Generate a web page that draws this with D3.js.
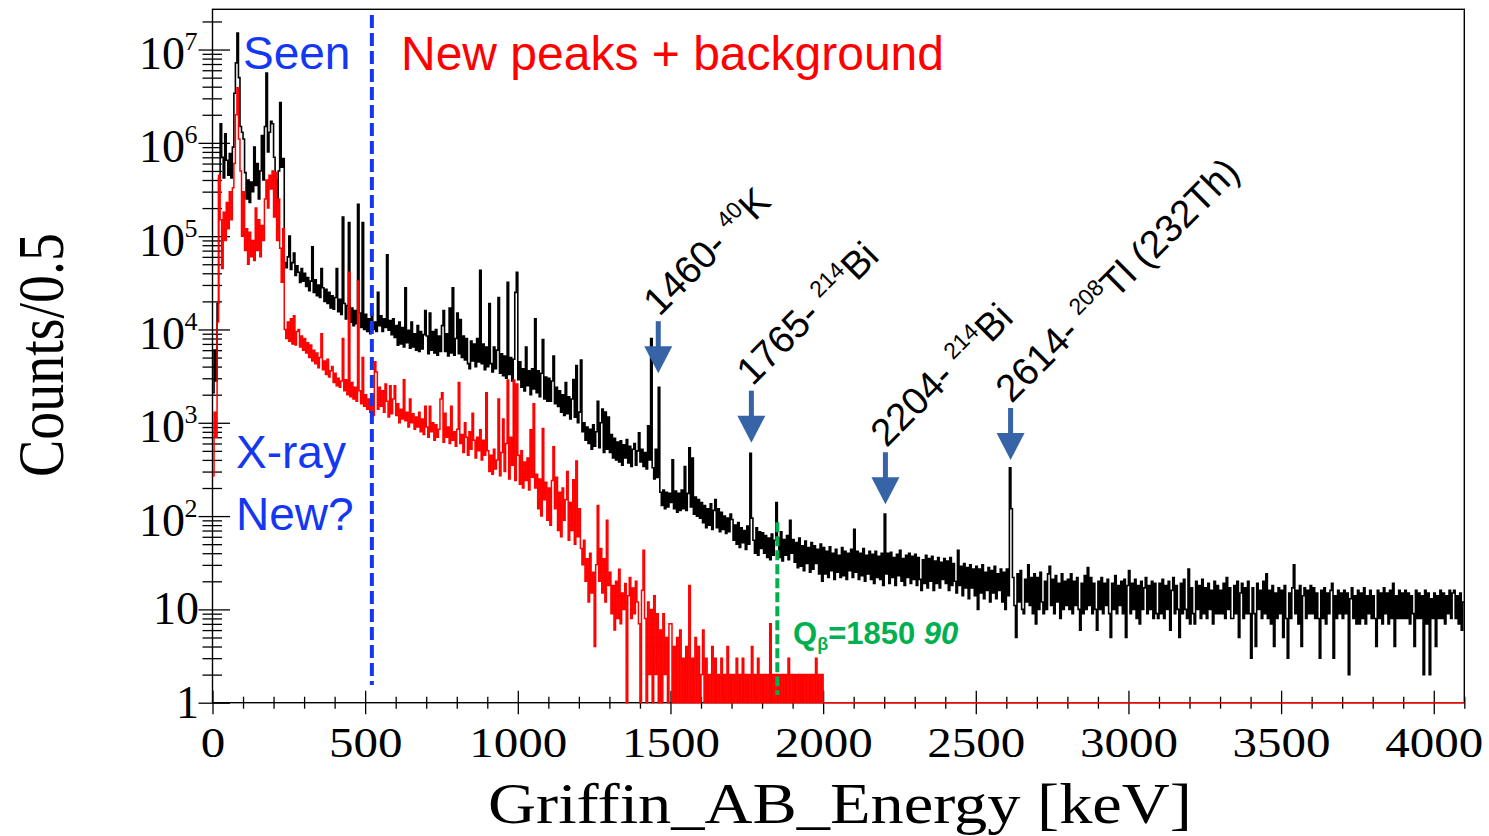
<!DOCTYPE html>
<html>
<head>
<meta charset="utf-8">
<script src="https://cdn.jsdelivr.net/npm/d3@7"></script>
<style>
  html, body { margin: 0; padding: 0; background: #fff; }
  svg { display: block; }
</style>
</head>
<body>
<svg id="chart" width="1489" height="836"></svg>
<script>
// ---------------- data ----------------
// Stored spectra: counts per 0.5 keV bin, sampled in 5 keV steps (value of each step = bin content shown there)
const binStep = 5;          // keV between stored values
const energyMax = 4100;     // keV, right edge of the frame
const countMin = 1;
const countMax = 2.7e7;

// Total Griffin addback spectrum (black)
const totalCounts = [
  2100,6000,2800,19000,420000,1600000,700000,420000,1250000,650000,450000,770000,420000,900000,3400000,7200000,15000000,5000000,1500000,1300000,
  1100000,480000,250000,400000,230000,380000,300000,900000,350000,600000,250000,500000,1200000,400000,1500000,5600000,800000,1300000,1700000,1600000,
  700000,400000,230000,500000,2700000,550000,680000,52000,46000,60000,100000,44000,52000,66000,38000,48000,41000,32000,45000,33000,
  40000,29000,36000,26000,33000,77000,25000,34000,23000,30000,22000,45000,28000,20000,27000,19000,25000,17000,23000,16500,
  22000,45000,15500,21000,14500,160000,19000,13000,18000,140000,12000,17000,11000,16000,11500,220000,15000,10500,140000,10000,
  14500,9500,13000,9000,15000,10000,12000,9500,25000,11000,14000,9500,13000,10500,63000,9800,12500,8800,13000,8200,
  11000,6800,12000,7000,10500,6500,28000,7200,9800,6300,12000,6500,9000,6000,11000,5800,9500,6200,8800,16000,
  8500,5500,15000,6000,9500,5600,10000,5300,8500,5800,11000,16000,5800,9000,5200,17000,5600,28000,5300,8000,
  15000,5500,12800,5000,8500,4700,8000,4300,3800,7500,4600,7000,4000,8000,4500,43000,4300,7000,3700,6500,
  4000,19000,4300,3500,6500,3800,6000,22000,3400,5500,3200,5200,3000,32000,3300,5000,2800,4800,25000,41000,
  2900,4500,2400,3800,2200,6500,2500,3600,2000,3800,2300,13000,2100,3600,1900,3400,7800,1800,3100,1700,
  3000,1700,2800,5200,1600,2400,1500,2200,1300,2000,1200,2700,1250,1900,1100,1800,2900,1150,4100,1000,
  1300,4700,800,1000,650,900,600,850,520,950,560,800,1700,540,1000,1400,480,1300,520,1150,
  480,750,420,680,400,620,380,640,350,580,420,660,370,560,340,520,600,350,500,780,
  380,520,340,480,320,930,400,8000,330,250,520,260,2400,180,130,190,120,180,125,175,
  140,400,120,185,110,175,115,190,120,340,115,175,540,125,420,105,160,100,150,95,
  140,85,130,75,120,80,135,72,115,150,75,120,68,110,72,100,65,95,68,105,
  92,55,80,50,85,46,75,52,70,44,78,50,470,95,55,40,75,38,68,45,
  66,40,62,36,58,34,64,38,55,140,58,36,68,33,56,38,62,34,90,40,
  56,32,52,28,58,29,48,26,54,31,46,25,52,27,48,31,44,24,50,20,
  46,24,42,22,47,26,40,21,44,25,38,22,46,23,42,21,40,26,44,22,
  72,25,42,21,40,23,45,20,38,24,42,21,39,19,42,22,37,21,40,18,
  105,24,40,19,41,22,36,18,39,23,43,20,35,18,38,22,40,19,37,21,
  39,18,36,21,16,34,19,38,17,35,20,37,16,33,19,36,17,32,21,35,
  19,33,16,36,18,31,20,15,43,18,29,14,31,17,28,13,30,17,27,14,
  29,10,27,15,30,13,25,16,28,12,26,15,29,13,24,16,27,12,25,10,
  27,14,330,120,22,11,5,24,12,26,10,9,21,12,30,11,22,9,24,7,
  22,10,25,12,9,20,10,24,29,11,21,9,23,12,19,8,24,10,20,11,
  21,10,24,9,20,11,22,10,6,19,9,23,10,28,11,22,9,19,10,6,
  20,10,22,9,19,11,21,9,5,19,10,23,9,18,11,20,9,21,5,18,
  26,9,19,10,21,8,18,7,20,10,17,22,9,18,10,20,8,19,9,8,
  19,9,21,8,18,10,20,6,16,22,9,18,10,5,19,9,21,10,8,27,
  7,17,9,7,20,10,18,8,21,9,17,8,19,10,16,7,20,9,18,9,
  16,9,19,8,22,10,17,8,8,18,9,20,5,15,19,8,17,9,20,9,
  3,17,9,4,19,10,16,8,20,9,24,8,16,7,18,4,15,8,17,9,
  16,5,18,8,3,15,8,17,30,9,16,7,18,4,14,17,8,16,9,18,
  9,17,8,15,8,3,16,8,17,7,15,9,16,19,3,14,8,16,9,15,
  8,16,9,15,2,13,17,8,14,7,16,7,15,8,17,7,14,9,16,8,
  14,8,4,16,8,15,7,17,9,15,7,16,8,19,4,14,8,16,8,15,
  8,16,8,15,7,14,9,4,16,8,15,8,14,2,16,7,15,2,13,8,
  15,4,14,8,16,8,15,7,14,9,16,8,15,16,8,14,7,15,6,12
];

// Gated spectrum (red), empty above 2000 keV
const gatedCounts = [
  270,1300,700,12000,450000,150000,45000,180000,90000,230000,120000,300000,150000,330000,600000,2000000,3900000,1100000,500000,100000,
  300000,70000,120000,50000,110000,60000,90000,55000,200000,70000,150000,60000,130000,90000,250000,400000,200000,450000,320000,500000,
  160000,480000,90000,250000,74000,32000,120000,10000,8000,12000,7500,13000,7000,14000,6800,9500,10000,6500,8500,6000,
  8000,5600,7200,5000,6800,4600,6000,4300,5600,3900,5000,9000,3700,4600,3300,4800,3100,3600,4000,2700,
  3400,2500,3000,2400,2800,8000,2200,2900,2000,41000,1900,2700,1800,2400,1700,33000,2200,1600,5000,1500,
  2000,1400,1800,1300,1900,1200,4500,3500,1400,2400,1500,2200,1300,2600,1700,1150,2500,1250,1800,2500,
  1200,1600,1000,1400,1100,2900,1050,1300,900,1800,1000,1250,850,1150,900,1300,800,1100,750,1500,
  900,700,1500,800,1000,650,950,700,850,1800,2100,620,1265,700,900,600,1500,650,800,560,
  850,2700,600,750,480,1000,700,450,800,520,1265,650,420,700,500,840,400,650,450,2100,
  500,300,450,280,520,320,400,1800,270,480,1100,300,600,2880,250,700,350,2880,240,2600,
  450,220,500,200,380,240,420,190,840,260,1600,200,280,120,250,100,870,150,230,90,
  200,80,240,555,120,260,70,180,60,200,90,150,300,55,140,70,245,50,390,60,
  120,45,30,55,20,35,12,40,15,25,4,30,130,20,45,15,35,12,90,18,
  25,9,18,6,20,8,27,7,15,10,19,1,14,22,8,17,9,20,12,7,
  1,16,43,8,1,12,2,10,1,14,2,9,1,6,1,9,2,5,1,7,
  7,1,4,1,5,1,6,1,3,1,4,1,18,1,3,1,5,1,4,1,
  2,6,1,3,1,2,1,4,1,3,1,2,1,3,1,2,1,4,1,2,
  1,2,1,3,1,2,1,3,1,2,1,2,1,4,1,2,1,3,1,2,
  1,2,1,2,1,7,1,2,1,2,1,2,1,2,1,2,1,3,1,2,
  1,2,1,2,1,2,1,2,1,2,1,2,1,2,1,3,1,2,1,2
];

// Axis ticks
const xMajorTicks = [0, 500, 1000, 1500, 2000, 2500, 3000, 3500, 4000];
const xMinorTicks = d3.range(100, energyMax + 1, 100).filter(e => e % 500 !== 0);
const yDecades = [0, 1, 2, 3, 4, 5, 6, 7];

// Labelled background lines
const peakEnergies   = [1460, 1765, 2204, 2614];
const peakArrowTips  = [3400, 612, 134, 399];   // counts at the arrow tips
const peakNumbers    = ["1460- ", "1765- ", "2204- ", "2614- "];
const peakMasses     = ["40", "214", "214", "208"];
const peakElements   = ["K", "Bi", "Bi", "Tl (232Th)"];

// Region markers
const splitEnergy = 522;            // end of the previously seen region
const splitRange = [1.55, 2.35e7];
const qValue = 1850, qError = 90;
const qRange = [1.21, 86];

// ---------------- drawing ----------------
const plotLeft = 212.5, plotRight = 1464.3, plotTop = 9.3, plotBottom = 702.7;
const serif = "'Liberation Serif', 'Times New Roman', serif";
const sans = "'Liberation Sans', Arial, sans-serif";
const arrowBlue = "#3664a6";
const markBlue = "#1438f2";
const qGreen = "#00b050";

const svg = d3.select("#chart");
const x = d3.scaleLinear().domain([0, energyMax]).range([plotLeft, plotRight]);
const y = d3.scaleLog().domain([countMin, countMax]).range([plotBottom, plotTop]);

// x axis: major and minor ticks crossing the frame line
const gxMinor = svg.append("g").attr("transform", `translate(0,${plotBottom})`)
  .call(d3.axisBottom(x).tickValues(xMinorTicks).tickSize(0).tickFormat(""));
gxMinor.select(".domain").remove();
gxMinor.selectAll(".tick line").attr("y1", -6).attr("y2", 6).attr("stroke", "#000").attr("stroke-width", 1.3);

const gx = svg.append("g").attr("transform", `translate(0,${plotBottom})`)
  .call(d3.axisBottom(x).tickValues(xMajorTicks).tickSize(0).tickFormat(d3.format("d")));
gx.select(".domain").remove();
gx.selectAll(".tick line").attr("y1", -12).attr("y2", 11.5).attr("stroke", "#000").attr("stroke-width", 1.3);
gx.selectAll(".tick text").attr("y", 0).attr("dy", null)
  .attr("transform", "translate(0,54) scale(1.14,1)")
  .attr("font-family", serif).attr("font-size", 43).attr("fill", "#000");

// y axis: log decades and 2..9 sub-ticks
const yMinorTicks = [];
yDecades.forEach(n => { for (let k = 2; k <= 9; k++) { const v = k * Math.pow(10, n); if (v <= countMax) yMinorTicks.push(v); } });

const gyMinor = svg.append("g").attr("transform", `translate(${plotLeft},0)`)
  .call(d3.axisLeft(y).tickValues(yMinorTicks).tickSize(0).tickFormat(""));
gyMinor.select(".domain").remove();
gyMinor.selectAll(".tick line").attr("x1", -10).attr("x2", 9.5).attr("stroke", "#000").attr("stroke-width", 1.3);

const gy = svg.append("g").attr("transform", `translate(${plotLeft},0)`)
  .call(d3.axisLeft(y).tickValues(yDecades.map(n => Math.pow(10, n))).tickSize(0).tickFormat(""));
gy.select(".domain").remove();
gy.selectAll(".tick line").attr("x1", -14).attr("x2", 17.5).attr("stroke", "#000").attr("stroke-width", 1.3);

// decade labels: 1, 10, 10^2 ... 10^7
const yLab = svg.append("g").attr("font-family", serif).attr("fill", "#000");
yDecades.forEach(n => {
  const ty = y(Math.pow(10, n));
  if (n < 2) {
    yLab.append("text").attr("x", 199).attr("y", ty + 15).attr("text-anchor", "end")
      .attr("font-size", 46).text(n === 0 ? "1" : "10");
  } else {
    yLab.append("text").attr("x", 185).attr("y", ty + 19.5).attr("text-anchor", "end")
      .attr("font-size", 46).text("10");
    yLab.append("text").attr("x", 184.5).attr("y", ty + 0.5).attr("text-anchor", "start")
      .attr("font-size", 26).text(String(n));
  }
});

// frame
svg.append("rect")
  .attr("x", plotLeft).attr("y", plotTop)
  .attr("width", plotRight - plotLeft).attr("height", plotBottom - plotTop)
  .attr("fill", "none").attr("stroke", "#000").attr("stroke-width", 1.4);

// histograms
const stepLine = d3.line()
  .x(d => x(d[0]))
  .y(d => y(Math.max(d[1], countMin)))
  .curve(d3.curveStepAfter);

const totalPts = totalCounts.map((c, i) => [i * binStep, c]);
totalPts.push([energyMax, totalCounts[totalCounts.length - 1]]);

const gatedPts = gatedCounts.map((c, i) => [i * binStep, c]);
gatedPts.push([gatedCounts.length * binStep, 0]);
gatedPts.push([energyMax, 0]);

svg.append("path").attr("d", stepLine(totalPts))
  .attr("fill", "none").attr("stroke", "#000").attr("stroke-width", 1.6)
  .attr("stroke-linejoin", "miter");
svg.append("path").attr("d", stepLine(gatedPts))
  .attr("fill", "none").attr("stroke", "#ff0000").attr("stroke-width", 1.5)
  .attr("stroke-linejoin", "miter");

// region boundary (blue dashes) and Q-value (green dashes)
svg.append("line")
  .attr("x1", x(splitEnergy)).attr("x2", x(splitEnergy))
  .attr("y1", y(splitRange[1])).attr("y2", y(splitRange[0]))
  .attr("stroke", markBlue).attr("stroke-width", 4).attr("stroke-dasharray", "13 5");
svg.append("line")
  .attr("x1", x(qValue)).attr("x2", x(qValue))
  .attr("y1", y(qRange[1])).attr("y2", y(qRange[0]))
  .attr("stroke", qGreen).attr("stroke-width", 4).attr("stroke-dasharray", "10 4");

// Q-value label
const qText = svg.append("text").attr("x", 793).attr("y", 644)
  .attr("font-family", sans).attr("font-weight", "bold").attr("font-size", 31).attr("fill", qGreen);
qText.append("tspan").text("Q");
qText.append("tspan").attr("font-size", 18).attr("dy", 6).text("β");
qText.append("tspan").attr("dy", -6).text(`=${qValue} `);
qText.append("tspan").attr("font-style", "italic").text(String(qError));

// region texts
svg.append("text").attr("x", 243).attr("y", 69).attr("font-family", sans).attr("font-size", 46)
  .attr("fill", markBlue).text("Seen");
svg.append("text").attr("x", 401).attr("y", 70).attr("font-family", sans).attr("font-size", 48)
  .attr("fill", "#ff0000").text("New peaks + background");
svg.append("text").attr("x", 236).attr("y", 468).attr("font-family", sans).attr("font-size", 46)
  .attr("fill", markBlue).text("X-ray");
svg.append("text").attr("x", 236).attr("y", 530).attr("font-family", sans).attr("font-size", 46)
  .attr("fill", markBlue).text("New?");

// arrows and rotated line labels
const shaftLen = 25, shaftW = 5, headLen = 27, headW = 28;
peakEnergies.forEach((e, i) => {
  const ax = x(e);
  const tipY = y(peakArrowTips[i]);
  const shaftTop = tipY - headLen - shaftLen;
  svg.append("rect").attr("x", ax - shaftW / 2).attr("y", shaftTop)
    .attr("width", shaftW).attr("height", shaftLen + 2).attr("fill", arrowBlue);
  svg.append("path")
    .attr("d", `M${ax - headW / 2},${tipY - headLen} L${ax + headW / 2},${tipY - headLen} L${ax},${tipY} Z`)
    .attr("fill", arrowBlue);

  const t = svg.append("text")
    .attr("transform", `translate(${ax + 1},${shaftTop - 4}) rotate(-45)`)
    .attr("font-family", sans).attr("font-size", 38.5).attr("fill", "#000");
  t.append("tspan").text(peakNumbers[i]);
  t.append("tspan").attr("font-size", 23).attr("dy", -15).text(peakMasses[i]);
  t.append("tspan").attr("dy", 15).text(peakElements[i]);
});

// axis titles
svg.append("text").attr("transform", "translate(840,823) scale(1.165,1)").attr("text-anchor", "middle")
  .attr("font-family", serif).attr("font-size", 57).attr("fill", "#000")
  .text("Griffin_AB_Energy [keV]");
svg.append("text").attr("transform", "translate(63,355) rotate(-90) scale(1,1.18)").attr("text-anchor", "middle")
  .attr("font-family", serif).attr("font-size", 56).attr("fill", "#000")
  .text("Counts/0.5");
</script>
</body>
</html>
